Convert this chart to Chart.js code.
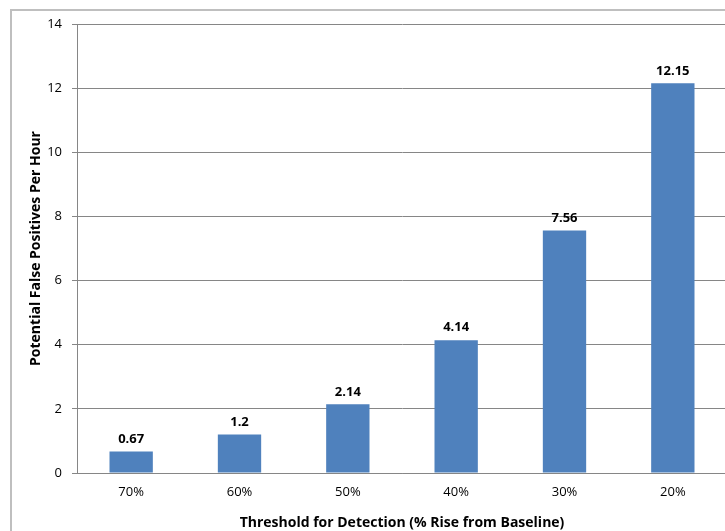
<!DOCTYPE html>
<html>
<head>
<meta charset="utf-8">
<script src="https://cdn.jsdelivr.net/npm/chart.js@4.4.0/dist/chart.umd.min.js"></script>
<style>
  html, body { margin: 0; padding: 0; background: #fff; overflow: hidden; }
  #wrap { position: relative; width: 745px; height: 531px; }
</style>
</head>
<body>
<div id="wrap"><canvas id="chart"></canvas></div>
<script>
const categories = ['70%', '60%', '50%', '40%', '30%', '20%'];
const falsePositives = [0.67, 1.2, 2.14, 4.14, 7.56, 12.15];
const valueLabels = ['0.67', '1.2', '2.14', '4.14', '7.56', '12.15'];
const yTicks = [0, 2, 4, 6, 8, 10, 12, 14];

const fontFamily = "'Open Sans', 'Liberation Sans', sans-serif";

// outer frame of the chart, partly cut off at right/bottom
const framePlugin = {
  id: 'frame',
  beforeDraw(chart) {
    const ctx = chart.ctx;
    ctx.save();
    ctx.strokeStyle = '#bfbfbf';
    ctx.lineWidth = 2;
    ctx.strokeRect(11, 10, 760, 560);
    ctx.restore();
  }
};

// value labels on top of each bar
const valuePlugin = {
  id: 'values',
  afterDatasetsDraw(chart) {
    const ctx = chart.ctx;
    const meta = chart.getDatasetMeta(0);
    ctx.save();
    ctx.font = "bold 13px " + fontFamily;
    ctx.fillStyle = '#000';
    ctx.textAlign = 'center';
    ctx.textBaseline = 'bottom';
    meta.data.forEach((bar, i) => {
      ctx.fillText(valueLabels[i], bar.x, bar.y - 6);
    });
    ctx.restore();
  }
};

new Chart(document.getElementById('chart'), {
  type: 'bar',
  data: {
    labels: categories,
    datasets: [{
      data: falsePositives,
      backgroundColor: '#4f81bd',
      borderColor: '#4f81bd',
      borderWidth: 0,
      categoryPercentage: 1.0,
      barPercentage: 0.4
    }]
  },
  options: {
    responsive: true,
    maintainAspectRatio: false,
    animation: false,
    devicePixelRatio: 1,
    layout: { padding: { top: 24, left: 28, right: 18, bottom: 0 } },
    plugins: {
      legend: { display: false },
      tooltip: { enabled: false }
    },
    scales: {
      x: {
        grid: { display: false, drawTicks: false },
        border: { color: '#868686', width: 1 },
        ticks: { color: '#000', font: { family: fontFamily, size: 13 }, padding: 11 },
        title: {
          display: true,
          text: 'Threshold for Detection (% Rise from Baseline)',
          color: '#000',
          font: { family: fontFamily, size: 14, weight: 'bold' },
          padding: { top: 3, bottom: 0 }
        },
        afterFit(scale) { scale.height = 58; }
      },
      y: {
        min: 0,
        max: 14,
        afterBuildTicks(scale) { scale.ticks = yTicks.map(v => ({ value: v })); },
        grid: { color: '#868686', tickLength: 5, tickColor: '#868686' },
        border: { color: '#868686', width: 1 },
        ticks: { color: '#000', font: { family: fontFamily, size: 13 }, padding: 10 },
        title: {
          display: true,
          text: 'Potential False Positives Per Hour',
          color: '#000',
          font: { family: fontFamily, size: 14, weight: 'bold' },
          padding: { top: 0, bottom: 4 }
        },
        afterFit(scale) { scale.width = 49; }
      }
    }
  },
  plugins: [framePlugin, valuePlugin]
});
</script>
</body>
</html>
